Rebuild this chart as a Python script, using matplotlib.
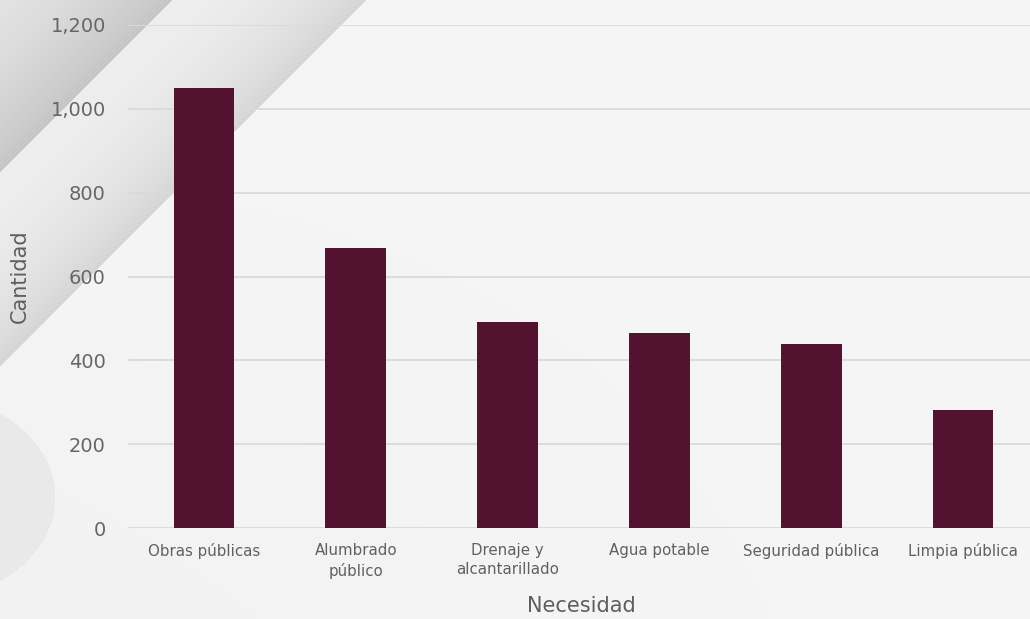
import numpy as np
import matplotlib
matplotlib.use("Agg")
import matplotlib.pyplot as plt

categories = ["Obras públicas", "Alumbrado\npúblico", "Drenaje y\nalcantarillado",
              "Agua potable", "Seguridad pública", "Limpia pública"]
values = [1050, 668, 491, 465, 440, 281]
yticks = [0, 200, 400, 600, 800, 1000, 1200]
ytick_labels = ["0", "200", "400", "600", "800", "1,000", "1,200"]

W, H = 1030, 619
fig = plt.figure(figsize=(W / 100, H / 100), dpi=100)
fig.patch.set_facecolor("#f5f5f5")

# decorative background
bg = fig.add_axes([0, 0, 1, 1], zorder=-5)
xx, yy = np.meshgrid(np.arange(W), np.arange(H))
img = np.full((H, W), 246.0)
img -= 4 * (1 - xx / W) * (yy / H)
s = xx + yy
corner = s < 172
img[corner] = 226 - 28 * (s[corner] / 172.0) ** 1.5
band = (s >= 172) & (s < 366)
t = (s[band] - 172) / 194.0
img[band] = 238 - 24 * t ** 2.0
blob = ((xx + 90) / 145.0) ** 2 + ((yy - 497) / 107.0) ** 2 < 1
img[blob] = 233
rgb = np.stack([img, img, img], axis=-1) / 255.0
bg.imshow(rgb, extent=[0, W, H, 0], aspect="auto", interpolation="bilinear")
bg.set_axis_off()

ax = fig.add_axes([128 / W, (H - 528) / H, (1039 - 128) / W, (528 - 25) / H])
ax.set_facecolor("none")
x = np.arange(len(categories))
ax.bar(x, values, width=0.4, color="#53122F", zorder=3)
ax.set_xlim(-0.5, len(categories) - 0.5)
ax.set_ylim(0, 1200)
ax.set_yticks(yticks)
ax.set_yticklabels(ytick_labels)
ax.set_xticks(x)
ax.set_xticklabels(categories, fontsize=10.8, color="#606060", linespacing=1.35,
                   family="DejaVu Sans")
ax.grid(axis="y", color="#dadada", linewidth=1.3, zorder=0)
ax.set_axisbelow(True)
for sp in ax.spines.values():
    sp.set_visible(False)
ax.tick_params(axis="y", length=0, pad=16, labelsize=14, labelcolor="#666666")
ax.tick_params(axis="x", length=0, pad=11)
for lab in ax.get_yticklabels():
    lab.set_fontfamily("DejaVu Sans")
ax.set_xlabel("Necesidad", fontsize=15, color="#5e5e5e", family="DejaVu Sans")
ax.set_ylabel("Cantidad", fontsize=15, color="#5e5e5e", family="DejaVu Sans")
ax.yaxis.set_label_coords(-108 / (1039 - 128), (528 - 276) / (528 - 25))
ax.xaxis.set_label_coords((581 - 128) / (1039 - 128), -(606 - 528) / (528 - 25))
ax.xaxis.label.set_va("center")
ax.yaxis.label.set_va("center")

fig.savefig("out.png", dpi=100, facecolor=fig.get_facecolor())
